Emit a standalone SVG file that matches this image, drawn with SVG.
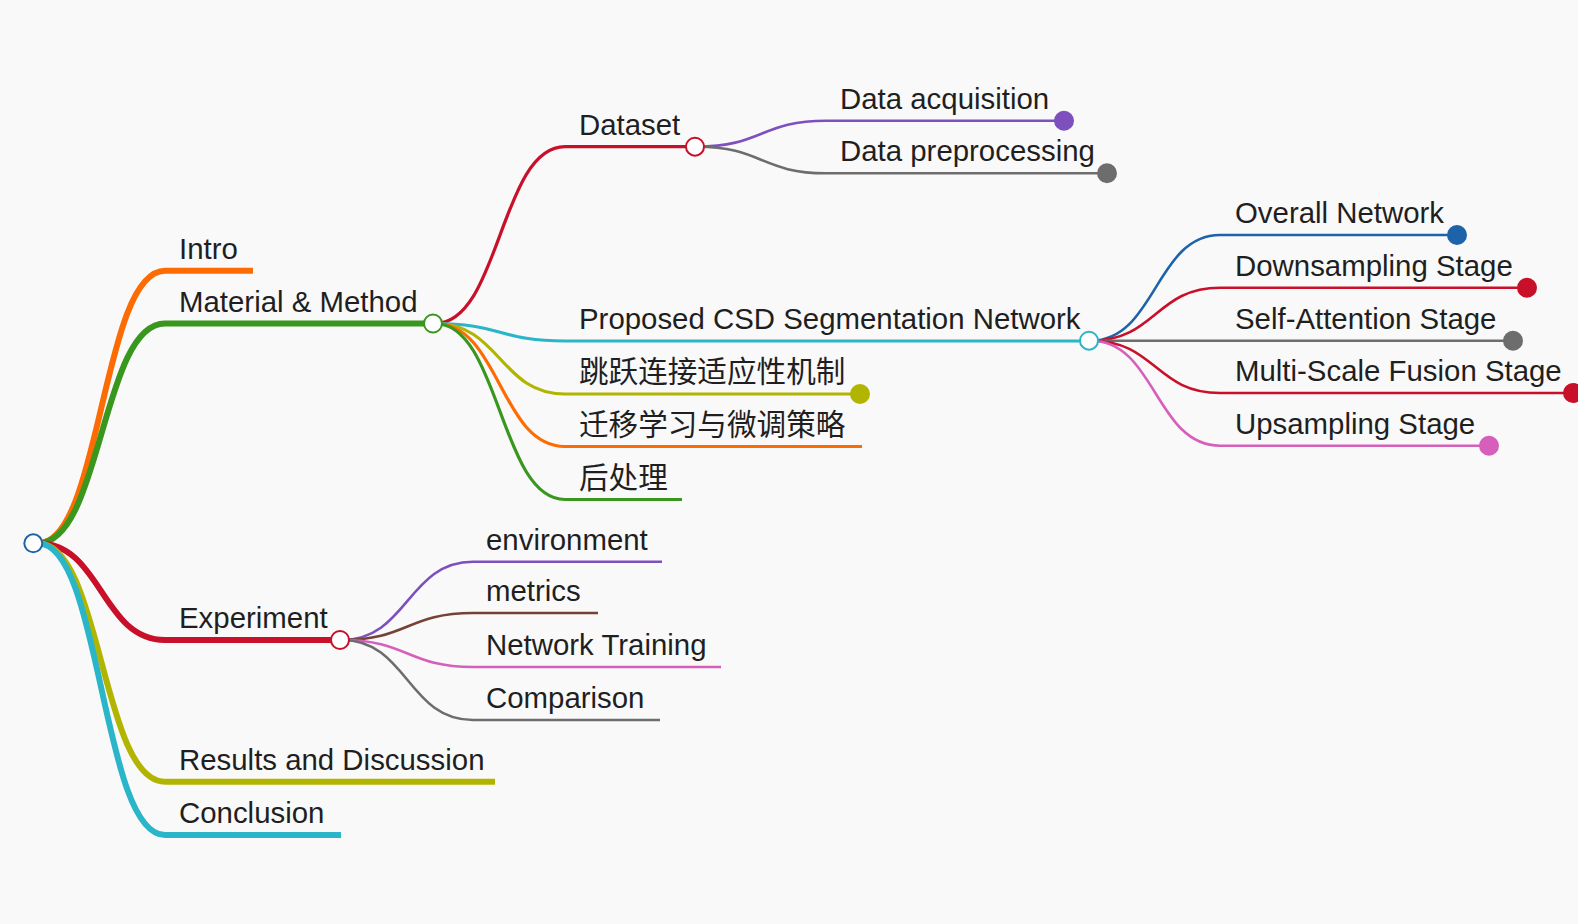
<svg xmlns="http://www.w3.org/2000/svg" width="1578" height="924" viewBox="0 0 1578 924">
<style>
  text { font-family: "Liberation Sans", "Noto Sans CJK SC", sans-serif; font-size: 29.4px; fill: #1f1f1f; }
  .cjk { font-family: "Noto Sans CJK SC", "Liberation Sans", sans-serif; font-size: 29.6px; }
  path, line { fill: none; stroke-linecap: butt; }
  .w1 { stroke-width: 6; }
  .w2 { stroke-width: 3.2; }
  .w3 { stroke-width: 2.6; }
  .open { fill: #ffffff; stroke-width: 2; }
  .dot { stroke-width: 2; }
  .blue { stroke: #1e63aa; }
  .orange { stroke: #fd6c02; }
  .green { stroke: #38971c; }
  .red { stroke: #c8102a; }
  .olive { stroke: #b2b500; }
  .cyan { stroke: #2bb5c9; }
  .purple { stroke: #7d50be; }
  .gray { stroke: #6d6d6d; }
  .brown { stroke: #774236; }
  .pink { stroke: #d65fbc; }
  .fblue { fill: #1e63aa; }
  .fred { fill: #c8102a; }
  .folive { fill: #b2b500; }
  .fpurple { fill: #7d50be; }
  .fgray { fill: #6d6d6d; }
  .fpink { fill: #d65fbc; }
</style>
<rect width="1578" height="924" fill="#f9f9f9"/>

<g id="connectors">
  <!-- root to level 1 -->
  <path class="w1 orange" d="M38,543.3 C101.5,543.3 101.5,270.7 165,270.7"/>
  <path class="w1 green" d="M38,543.3 C101.5,543.3 101.5,323.5 165,323.5"/>
  <path class="w1 red" d="M38,543.3 C101.5,543.3 101.5,640 165,640"/>
  <path class="w1 olive" d="M38,543.3 C101.5,543.3 101.5,781.7 165,781.7"/>
  <path class="w1 cyan" d="M38,543.3 C101.5,543.3 101.5,835 165,835"/>
  <!-- Material & Method to level 2 -->
  <path class="w2 red" d="M435,323.5 C500,323.5 500,146.7 565,146.7"/>
  <path class="w2 cyan" d="M435,323.5 C500,323.5 500,341 565,341"/>
  <path class="w2 olive" d="M435,323.5 C500,323.5 500,394 565,394"/>
  <path class="w2 orange" d="M435,323.5 C500,323.5 500,446.5 565,446.5"/>
  <path class="w2 green" d="M435,323.5 C500,323.5 500,499.5 565,499.5"/>
  <!-- Dataset to level 3 -->
  <path class="w3 purple" d="M697,146.7 C761.5,146.7 761.5,120.7 826,120.7"/>
  <path class="w3 gray" d="M697,146.7 C761.5,146.7 761.5,173.3 826,173.3"/>
  <!-- Proposed CSD to level 3 -->
  <path class="w3 blue" d="M1091,340.7 C1155.5,340.7 1155.5,235 1220,235"/>
  <path class="w3 red" d="M1091,340.7 C1155.5,340.7 1155.5,287.7 1220,287.7"/>
  <path class="w3 gray" d="M1091,340.7 C1155.5,340.7 1155.5,340.7 1220,340.7"/>
  <path class="w3 red" d="M1091,340.7 C1155.5,340.7 1155.5,393 1220,393"/>
  <path class="w3 pink" d="M1091,340.7 C1155.5,340.7 1155.5,445.7 1220,445.7"/>
  <!-- Experiment to level 3 -->
  <path class="w3 purple" d="M342,640 C407.5,640 407.5,561.7 473,561.7"/>
  <path class="w3 brown" d="M342,640 C407.5,640 407.5,613 473,613"/>
  <path class="w3 pink" d="M342,640 C407.5,640 407.5,667 473,667"/>
  <path class="w3 gray" d="M342,640 C407.5,640 407.5,720 473,720"/>
</g>

<g id="node-intro">
  <line class="w1 orange" x1="165" y1="270.7" x2="253" y2="270.7"/>
  <text x="179" y="258.5">Intro</text>
</g>
<g id="node-material-method">
  <line class="w1 green" x1="165" y1="323.5" x2="433" y2="323.5"/>
  <text x="179" y="311.5">Material &amp; Method</text>
  <circle class="open green" cx="433" cy="323.5" r="9"/>
</g>
<g id="node-dataset">
  <line class="w2 red" x1="565" y1="146.7" x2="695" y2="146.7"/>
  <text x="579" y="134.7">Dataset</text>
  <circle class="open red" cx="695" cy="146.7" r="9"/>
</g>
<g id="node-data-acquisition">
  <line class="w3 purple" x1="826" y1="120.7" x2="1064" y2="120.7"/>
  <text x="840" y="108.7">Data acquisition</text>
  <circle class="dot purple fpurple" cx="1064" cy="120.7" r="9"/>
</g>
<g id="node-data-preprocessing">
  <line class="w3 gray" x1="826" y1="173.3" x2="1107" y2="173.3"/>
  <text x="840" y="161.3">Data preprocessing</text>
  <circle class="dot gray fgray" cx="1107" cy="173.3" r="9"/>
</g>
<g id="node-proposed-csd">
  <line class="w2 cyan" x1="565" y1="341" x2="1089" y2="341"/>
  <text x="579" y="329">Proposed CSD Segmentation Network</text>
  <circle class="open cyan" cx="1089" cy="340.7" r="9"/>
</g>
<g id="node-overall-network">
  <line class="w3 blue" x1="1220" y1="235" x2="1457" y2="235"/>
  <text x="1235" y="223">Overall Network</text>
  <circle class="dot blue fblue" cx="1457" cy="235" r="9"/>
</g>
<g id="node-downsampling">
  <line class="w3 red" x1="1220" y1="287.7" x2="1527" y2="287.7"/>
  <text x="1235" y="275.7">Downsampling Stage</text>
  <circle class="dot red fred" cx="1527" cy="287.7" r="9"/>
</g>
<g id="node-self-attention">
  <line class="w3 gray" x1="1220" y1="340.7" x2="1513" y2="340.7"/>
  <text x="1235" y="328.7">Self-Attention Stage</text>
  <circle class="dot gray fgray" cx="1513" cy="340.7" r="9"/>
</g>
<g id="node-multi-scale">
  <line class="w3 red" x1="1220" y1="393" x2="1573" y2="393"/>
  <text x="1235" y="381">Multi-Scale Fusion Stage</text>
  <circle class="dot red fred" cx="1573" cy="393" r="9"/>
</g>
<g id="node-upsampling">
  <line class="w3 pink" x1="1220" y1="445.7" x2="1489" y2="445.7"/>
  <text x="1235" y="433.7">Upsampling Stage</text>
  <circle class="dot pink fpink" cx="1489" cy="445.7" r="9"/>
</g>
<g id="node-skip-connection">
  <line class="w2 olive" x1="565" y1="394" x2="860" y2="394"/>
  <text class="cjk" x="579" y="382">跳跃连接适应性机制</text>
  <circle class="dot olive folive" cx="860" cy="394" r="9"/>
</g>
<g id="node-transfer-learning">
  <line class="w2 orange" x1="565" y1="446.5" x2="862" y2="446.5"/>
  <text class="cjk" x="579" y="434.5">迁移学习与微调策略</text>
</g>
<g id="node-post-processing">
  <line class="w2 green" x1="565" y1="499.5" x2="682" y2="499.5"/>
  <text class="cjk" x="579" y="487.5">后处理</text>
</g>
<g id="node-experiment">
  <line class="w1 red" x1="165" y1="640" x2="340" y2="640"/>
  <text x="179" y="628">Experiment</text>
  <circle class="open red" cx="340" cy="640" r="9"/>
</g>
<g id="node-environment">
  <line class="w3 purple" x1="473" y1="561.7" x2="662" y2="561.7"/>
  <text x="486" y="549.7">environment</text>
</g>
<g id="node-metrics">
  <line class="w3 brown" x1="473" y1="613" x2="598" y2="613"/>
  <text x="486" y="601">metrics</text>
</g>
<g id="node-network-training">
  <line class="w3 pink" x1="473" y1="667" x2="721" y2="667"/>
  <text x="486" y="655">Network Training</text>
</g>
<g id="node-comparison">
  <line class="w3 gray" x1="473" y1="720" x2="660" y2="720"/>
  <text x="486" y="708">Comparison</text>
</g>
<g id="node-results">
  <line class="w1 olive" x1="165" y1="781.7" x2="495" y2="781.7"/>
  <text x="179" y="769.7">Results and Discussion</text>
</g>
<g id="node-conclusion">
  <line class="w1 cyan" x1="165" y1="835" x2="341" y2="835"/>
  <text x="179" y="823">Conclusion</text>
</g>
<g id="node-root">
  <circle class="open blue" cx="33.3" cy="543.3" r="9"/>
</g>
</svg>
